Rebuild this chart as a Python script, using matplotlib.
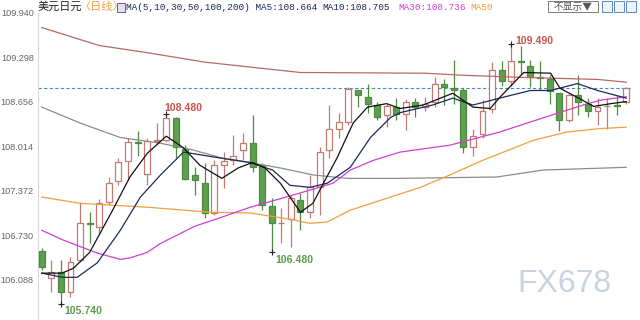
import numpy as np
import matplotlib
matplotlib.use("Agg")
import matplotlib.pyplot as plt
from matplotlib.patches import Rectangle

# daily USD/JPY candles (open, high, low, close)
opens = [106.50, 106.11, 106.20, 105.91, 106.37, 106.91, 106.85, 107.21, 107.51, 107.80,
         108.08, 107.62, 108.09, 108.10, 108.42, 107.98, 107.60, 107.48, 107.05, 107.75,
         107.81, 107.96, 108.06, 107.74, 107.15, 106.90, 106.96, 107.24, 107.06, 107.42,
         107.96, 108.26, 108.37, 108.82, 108.72, 108.61, 108.46, 108.58, 108.48, 108.66,
         108.58, 108.66, 108.92, 108.85, 108.82, 108.01, 108.19, 108.55, 109.12, 108.95,
         109.25, 109.17, 109.02, 108.98, 108.78, 108.40, 108.76, 108.63, 108.52, 108.59,
         108.61, 108.65]
highs = [106.54, 106.37, 106.37, 106.41, 107.21, 107.06, 107.25, 107.57, 107.85, 108.14,
         108.24, 108.14, 108.35, 108.48, 108.44, 108.03, 107.71, 107.77, 107.81, 107.93,
         108.17, 108.20, 108.46, 107.77, 107.26, 107.12, 107.31, 107.34, 107.60, 108.00,
         108.61, 108.50, 108.87, 108.83, 108.92, 108.65, 108.63, 108.71, 108.69, 108.71,
         108.72, 109.01, 108.99, 109.26, 108.85, 108.27, 108.68, 109.23, 109.25, 109.49,
         109.47, 109.26, 109.25, 109.04, 108.79, 108.79, 109.04, 108.71, 108.71, 108.71,
         108.75, 108.87]
lows = [106.23, 105.91, 105.74, 105.84, 106.34, 106.61, 106.76, 107.16, 107.45, 107.52,
        107.88, 107.45, 108.04, 108.07, 107.84, 107.52, 107.31, 106.97, 107.02, 107.41,
        107.74, 107.81, 107.64, 107.09, 106.48, 106.61, 106.56, 106.80, 106.97, 107.02,
        107.84, 108.14, 108.32, 108.58, 108.49, 108.39, 108.29, 108.39, 108.25, 108.43,
        108.53, 108.58, 108.61, 108.63, 107.91, 107.88, 108.14, 108.50, 108.89, 108.89,
        109.04, 108.87, 108.82, 108.63, 108.23, 108.36, 108.46, 108.43, 108.32, 108.27,
        108.46, 108.63]
closes = [106.27, 106.20, 105.91, 106.34, 106.90, 106.89, 107.19, 107.49, 107.78, 108.07,
          108.06, 108.09, 108.11, 108.42, 108.00, 107.54, 107.53, 107.05, 107.74, 107.80,
          107.88, 108.06, 107.71, 107.16, 106.90, 106.91, 107.26, 107.06, 107.42, 107.93,
          108.26, 108.36, 108.84, 108.75, 108.63, 108.43, 108.59, 108.48, 108.66, 108.58,
          108.63, 108.92, 108.87, 108.82, 108.01, 108.16, 108.53, 109.12, 108.95, 109.24,
          109.23, 109.01, 109.00, 108.81, 108.40, 108.76, 108.65, 108.52, 108.58, 108.60,
          108.59, 108.86]

# moving average lines, read as (candle index, price) points
ma5_x = [0, 2.1, 3.3, 5, 7.4, 9.2, 11, 13, 14.8, 16.5, 18.8, 20.5, 22, 23.3, 24.9, 27,
         28.3, 29.4, 30.8, 32.5, 34, 36, 37.4, 39.8, 42.9, 45, 46.8, 47.8, 50.3, 53.1,
         54.1, 55.9, 57.6, 59.4, 61]
ma5_y = [106.18, 106.18, 106.25, 106.48, 107.09, 107.57, 107.91, 108.16, 107.99, 107.74,
         107.55, 107.70, 107.78, 107.70, 107.48, 107.06, 107.19, 107.48, 107.84, 108.35,
         108.58, 108.63, 108.56, 108.61, 108.78, 108.58, 108.56, 108.72, 109.08, 109.07,
         108.85, 108.72, 108.59, 108.63, 108.66]
ma10_x = [0, 2.2, 3.7, 5.8, 8.2, 10.3, 12.4, 14.8, 17.9, 21.7, 24.1, 25.9, 28, 29.8,
          32.2, 34.3, 36.4, 37.4, 40.8, 42.9, 45, 47.8, 51, 53.1, 55.9, 58, 61]
ma10_y = [106.18, 106.12, 106.12, 106.33, 106.80, 107.28, 107.60, 107.93, 107.86, 107.78,
          107.67, 107.45, 107.42, 107.48, 107.71, 108.14, 108.43, 108.50, 108.61, 108.71,
          108.61, 108.71, 108.82, 108.82, 108.92, 108.82, 108.71]
ma30_x = [0, 2.2, 5.8, 8.2, 9.2, 11, 12.4, 16, 18.4, 21.7, 27, 30.4, 32.2, 34.6, 37.4,
          42.6, 47.8, 53.1, 56.5, 58.3, 61]
ma30_y = [106.80, 106.66, 106.47, 106.38, 106.40, 106.48, 106.61, 106.86, 106.97, 107.13,
          107.34, 107.48, 107.67, 107.81, 107.93, 108.03, 108.22, 108.46, 108.61, 108.68,
          108.73]
ma50_x = [0, 4, 11.3, 17.6, 21.7, 25.9, 28, 29.8, 32.2, 35.3, 39.5, 42.6, 46, 51.3,
          54.8, 58.3, 61]
ma50_y = [107.28, 107.19, 107.13, 107.06, 107.05, 106.96, 106.90, 106.92, 107.09, 107.23,
          107.42, 107.60, 107.81, 108.10, 108.22, 108.27, 108.29]
ma100_x = [0, 4, 8.2, 12.3, 15.8, 18.9, 21.7, 24.9, 28.3, 31.9, 37.4, 47.5, 52.3, 61]
ma100_y = [108.58, 108.35, 108.14, 108.06, 107.96, 107.84, 107.78, 107.70, 107.60, 107.55,
           107.55, 107.57, 107.67, 107.71]
ma200_x = [0, 6, 11.3, 17, 27, 40, 44, 50, 58, 61]
ma200_y = [109.73, 109.47, 109.36, 109.23, 109.08, 109.07, 109.04, 109.01, 108.98, 108.94]

yticks = [106.088, 106.730, 107.372, 108.014, 108.656, 109.298]

up_edge = "#c07a70"
dn_fill = "#5fa050"
dn_edge = "#4d8c40"

fig = plt.figure(figsize=(6.4, 3.2), dpi=100)
ax = fig.add_axes([38 / 640, 0, 594 / 640, 307 / 320])
ax.set_xlim(-0.39, 61.6)
ax.set_ylim(105.503, 109.940)

idx = np.arange(len(opens))
o = np.array(opens)
c = np.array(closes)
up = c >= o
wick_col = [up_edge if u else dn_edge for u in up]
ax.vlines(idx, lows, highs, colors=wick_col, linewidth=0.9, zorder=2)
bottoms = np.minimum(o, c)
heights = np.maximum(np.abs(c - o), 0.012)
ax.bar(idx, heights, bottom=bottoms, width=0.62,
       color=["white" if u else dn_fill for u in up],
       edgecolor=wick_col, linewidth=0.9, zorder=3)

ax.plot(ma200_x, ma200_y, color="#b86a64", lw=0.9, zorder=4)
ax.plot(ma100_x, ma100_y, color="#8c8c8c", lw=0.9, zorder=4)
ax.plot(ma50_x, ma50_y, color="#f0a040", lw=0.9, zorder=4)
ax.plot(ma30_x, ma30_y, color="#d040d0", lw=0.9, zorder=4)
ax.plot(ma10_x, ma10_y, color="#1c2a5c", lw=0.9, zorder=5)
ax.plot(ma5_x, ma5_y, color="#111111", lw=0.9, zorder=5)

# last price line
ax.axhline(closes[-1], color="#4a8cc0", lw=0.8, ls=(0, (3, 2)), zorder=1)

# extreme value labels
hi_i = int(np.argmax(highs))
lo_i = int(np.argmin(lows))
ax.plot([13, hi_i], [highs[13], highs[hi_i]], "+", color="#222222", ms=4, mew=0.8, zorder=6)
ax.plot([lo_i, 24], [lows[lo_i], lows[24]], "+", color="#222222", ms=4, mew=0.8, zorder=6)
ax.text(12.8, 108.56, f"{highs[13]:.3f}", color="#c8544c", fontsize=7.6,
        fontweight="bold", family="Liberation Sans", va="center")
ax.text(49.4, 109.54, f"{highs[hi_i]:.3f}", color="#c8544c", fontsize=7.6,
        fontweight="bold", family="Liberation Sans", va="center")
ax.text(2.4, 105.63, f"{lows[lo_i]:.3f}", color="#5a9e4b", fontsize=7.6,
        fontweight="bold", family="Liberation Sans", va="center")
ax.text(24.4, 106.37, f"{lows[24]:.3f}", color="#5a9e4b", fontsize=7.6,
        fontweight="bold", family="Liberation Sans", va="center")

ax.set_yticks(yticks)
ax.set_yticklabels([f"{t:.3f}" for t in yticks], color="#666666",
                   fontsize=6.6, family="Liberation Sans")
ax.tick_params(axis="y", length=0, pad=3)
ax.set_xticks([])
for s in ["top", "right", "bottom"]:
    ax.spines[s].set_visible(False)
ax.spines["left"].set_color("#d8d8d8")
ax.spines["left"].set_linewidth(0.8)

# watermark
fig.text(564 / 640, 1 - 284 / 320, "FX678", fontsize=23, color="#c9d2de",
         family="Liberation Sans", ha="center", va="center")

# header line
hy = 1 - 7 / 320
cjk = ["Noto Sans CJK SC", "DejaVu Sans"]
fig.text(1 / 640, 1 - 14 / 320, "109.940", fontsize=6.6, color="#666666",
         family="Liberation Sans", va="center")
fig.text(38 / 640, hy, "美元日元", fontsize=8, color="#222222", family=cjk, va="center")
fig.text(79 / 640, hy, "〈日线〉", fontsize=8, color="#f0a040", family=cjk, va="center")
fig.patches.append(Rectangle((117 / 640, 1 - 12 / 320), 8 / 640, 9 / 320,
                             transform=fig.transFigure, facecolor="#e8e0f0",
                             edgecolor="#8050a0", linewidth=0.7))
mono = "Liberation Mono"
fig.text(126 / 640, hy, "MA(5,10,30,50,100,200) MA5:108.664", fontsize=6.75,
         color="#1c2a5c", family=mono, va="center")
fig.text(322 / 640, hy, "MA10:108.705", fontsize=6.75, color="#1c2a5c",
         family=mono, va="center")
fig.text(398 / 640, hy, "MA30:108.736", fontsize=6.75, color="#d040d0",
         family=mono, va="center")
fig.text(470 / 640, hy, "MA50", fontsize=6.75, color="#f0a040", family=mono, va="center")

fig.patches.append(Rectangle((548 / 640, 1 - 12 / 320), 50 / 640, 11 / 320,
                             transform=fig.transFigure, facecolor="white",
                             edgecolor="#7a7a7a", linewidth=0.7))
fig.text(573 / 640, hy, "不显示▼", fontsize=7, color="#555555", family=cjk,
         ha="center", va="center")
for bx in [602, 614, 626]:
    fig.patches.append(Rectangle((bx / 640, 1 - 12 / 320), 10 / 640, 11 / 320,
                                 transform=fig.transFigure, facecolor="#eef4fa",
                                 edgecolor="#5a8ac0", linewidth=0.7))

fig.savefig("out.png", dpi=100)
